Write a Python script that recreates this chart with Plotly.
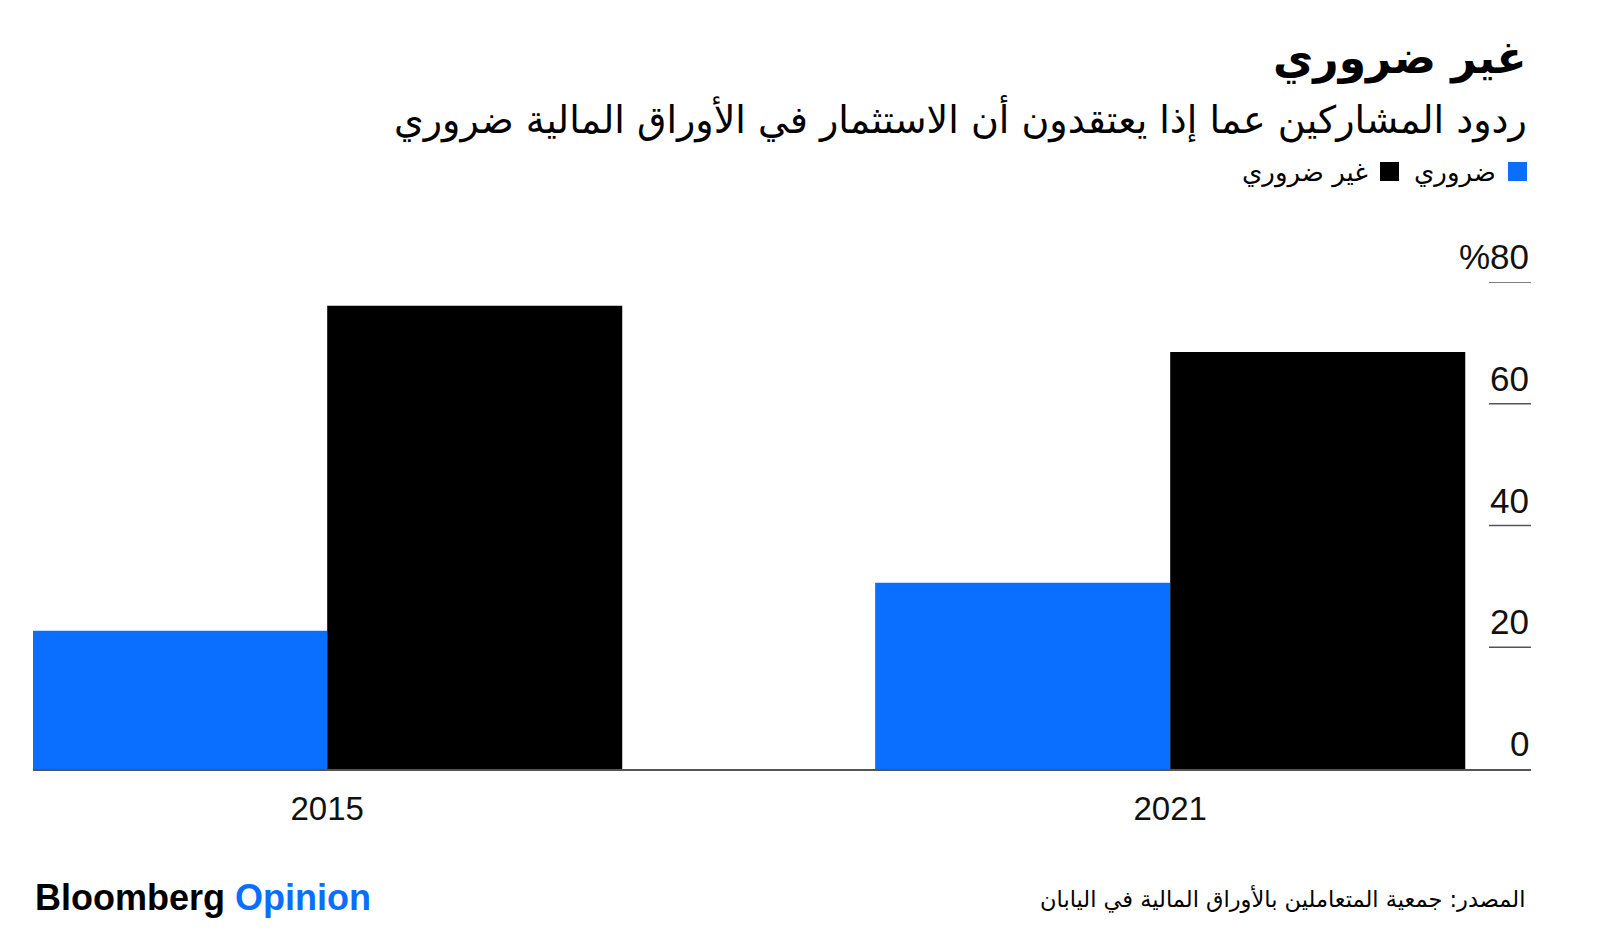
import plotly.graph_objects as go

# ---- data ----
years = ["2015", "2021"]
necessary = [22.7, 30.6]          # ضروري
not_necessary = [76.1, 68.5]      # غير ضروري
y_ticks = [0, 20, 40, 60, 80]
y_tick_labels = ["0", "20", "40", "60", "%80"]

title = "غير ضروري"
subtitle = "ردود المشاركين عما إذا يعتقدون أن الاستثمار في الأوراق المالية ضروري"
legend_names = ["ضروري", "غير ضروري"]
source = "المصدر: جمعية المتعاملين بالأوراق المالية في اليابان"

BLUE = "#0a6fff"
BLACK = "#000000"
AR_FONT = "DejaVu Sans"
NUM_FONT = "Liberation Sans"

W, H = 1600, 940
L, R, T, B = 33, 1531, 282, 769


def px(x):
    return (x - L) / (R - L)


def py(y):
    return (B - y) / (B - T)


fig = go.Figure()
fig.add_trace(go.Bar(x=years, y=necessary, name=legend_names[0],
                     marker=dict(color=BLUE, line=dict(width=0))))
fig.add_trace(go.Bar(x=years, y=not_necessary, name=legend_names[1],
                     marker=dict(color=BLACK, line=dict(width=0))))

annotations = []
shapes = []

# y tick labels (right side, above stubs)
for v, lab in zip(y_ticks, y_tick_labels):
    annotations.append(dict(x=1, xref="paper", y=v, yref="y", text=lab,
                            xanchor="right", yanchor="bottom", yshift=4,
                            showarrow=False,
                            font=dict(family=NUM_FONT, size=35, color="#111")))
    if v != 0:
        shapes.append(dict(type="line", xref="paper", yref="y",
                           x0=px(1489), x1=1, y0=v, y1=v,
                           line=dict(color="#555", width=1.5)))

# title / subtitle
annotations.append(dict(x=px(1529), y=py(58), xref="paper", yref="paper",
                        text="<b>" + title + "</b>", xanchor="right", yanchor="middle",
                        showarrow=False, font=dict(family=AR_FONT, size=44, color="#000")))
annotations.append(dict(x=px(1529), y=py(119), xref="paper", yref="paper",
                        text=subtitle, xanchor="right", yanchor="middle",
                        showarrow=False, font=dict(family=AR_FONT, size=38, color="#000")))

# legend (RTL)
shapes.append(dict(type="rect", xref="paper", yref="paper",
                   x0=px(1508), x1=px(1527), y0=py(181), y1=py(162),
                   fillcolor=BLUE, line=dict(width=0)))
annotations.append(dict(x=px(1498), y=py(172), xref="paper", yref="paper",
                        text=legend_names[0], xanchor="right", yanchor="middle",
                        showarrow=False, font=dict(family=AR_FONT, size=26, color="#000")))
shapes.append(dict(type="rect", xref="paper", yref="paper",
                   x0=px(1380), x1=px(1399), y0=py(181), y1=py(162),
                   fillcolor=BLACK, line=dict(width=0)))
annotations.append(dict(x=px(1370), y=py(172), xref="paper", yref="paper",
                        text=legend_names[1], xanchor="right", yanchor="middle",
                        showarrow=False, font=dict(family=AR_FONT, size=26, color="#000")))

# footer
annotations.append(dict(x=px(33), y=py(897), xref="paper", yref="paper",
                        text="<b>Bloomberg</b> <b><span style='color:" + BLUE + "'>Opinion</span></b>",
                        xanchor="left", yanchor="middle", showarrow=False,
                        font=dict(family=NUM_FONT, size=36, color="#000")))
annotations.append(dict(x=px(1527), y=py(899), xref="paper", yref="paper",
                        text=source, xanchor="right", yanchor="middle",
                        showarrow=False, font=dict(family=AR_FONT, size=22.5, color="#000")))

fig.update_layout(
    width=W, height=H,
    margin=dict(l=L, r=W - R, t=T, b=H - B, pad=0),
    paper_bgcolor="white", plot_bgcolor="white",
    barmode="group", bargap=0.3, bargroupgap=0,
    showlegend=False,
    annotations=annotations, shapes=shapes,
    xaxis=dict(type="category", range=[-0.349, 1.428], showgrid=False,
               showline=True, linecolor="#555", linewidth=1.5,
               ticks="outside", ticklen=10, tickcolor="rgba(0,0,0,0)",
               tickfont=dict(family=NUM_FONT, size=33, color="#111"),
               fixedrange=True),
    yaxis=dict(range=[0, 80], showgrid=False, zeroline=False,
               showticklabels=False, showline=False, fixedrange=True),
)

fig.write_html("out.html")
